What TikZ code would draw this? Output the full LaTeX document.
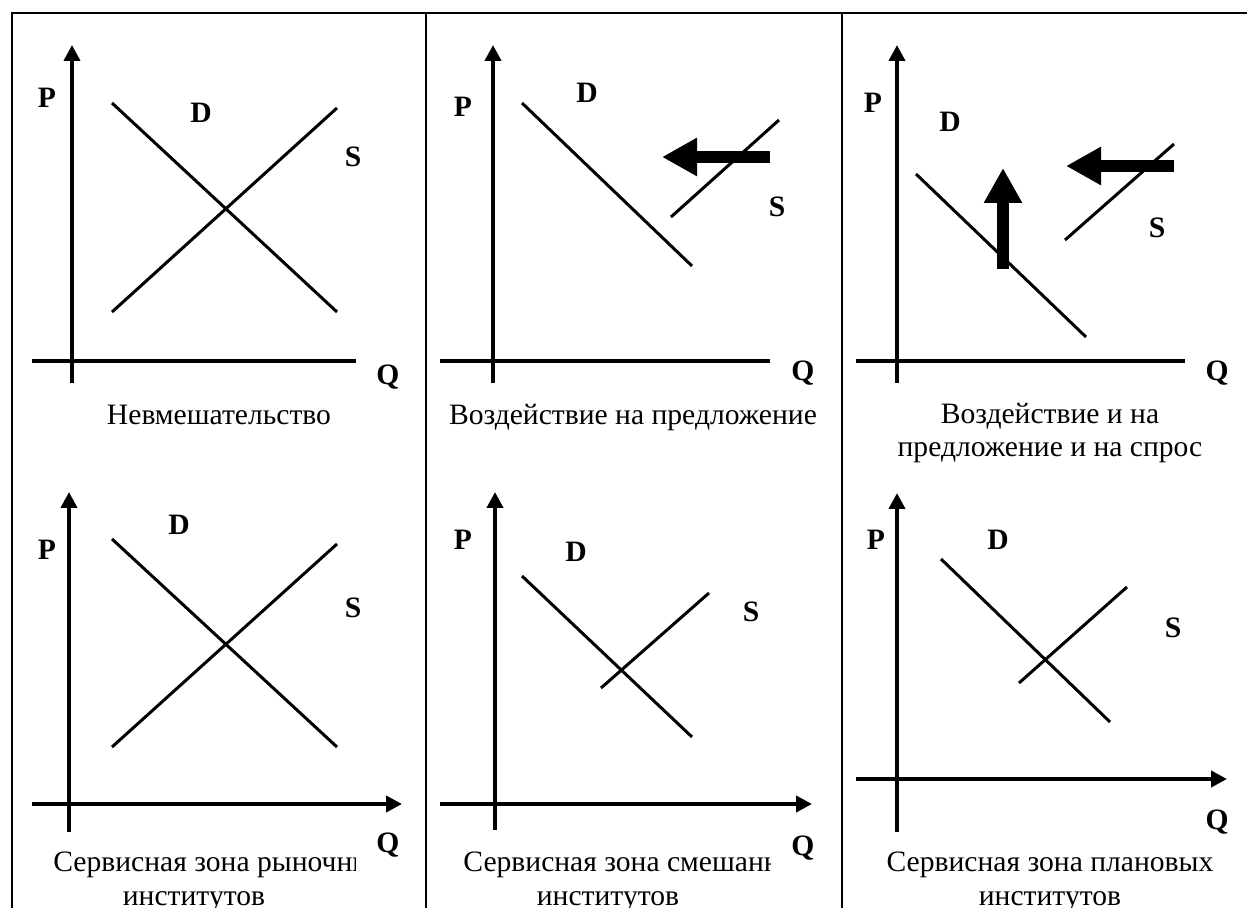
\documentclass[tikz,border=0pt]{standalone}
\usepackage{fontspec}
\setmainfont{Liberation Serif}
\usepackage{tikz}
\usetikzlibrary{positioning, arrows.meta}

\tikzset{
  axis/.style={line width=2.4pt},
  axisend/.style={axis, -{Triangle[length=8pt,width=8pt]}},
  curve/.style={line width=1.5pt},
  shiftarrow/.style={line width=6pt, -{Triangle[length=17.5pt,width=18pt]}},
  lab/.style={font=\fontsize{14.8}{17}\selectfont\bfseries, inner sep=0pt},
  capt/.style={font=\fontsize{14.8}{17}\selectfont, inner sep=0pt, anchor=base},
  frame/.style={line width=1.2pt}
}

\begin{document}
\begin{tikzpicture}[x=0.5pt, y=-0.5pt]
    \useasboundingbox (0,0) rectangle (1247,908);

    % table frame
    \coordinate (tl) at (12,13);
    \coordinate (tr) at (1247,13);
    \coordinate (bl) at (12,908);
    \coordinate (m1t) at (426,13);
    \coordinate (m1b) at (426,908);
    \coordinate (m2t) at (842,13);
    \coordinate (m2b) at (842,908);
    \draw[frame] (bl) -- (tl) -- (tr);
    \draw[frame] (m1t) -- (m1b);
    \draw[frame] (m2t) -- (m2b);

    % panel 1: laissez-faire
    \coordinate (y1a) at (72,383);  \coordinate (y1b) at (72,45);
    \coordinate (x1a) at (32,361);  \coordinate (x1b) at (356,361);
    \coordinate (d1a) at (112,103); \coordinate (d1b) at (337,312);
    \coordinate (s1a) at (112,312); \coordinate (s1b) at (337,108);
    \draw[axisend] (y1a) -- (y1b);
    \draw[axis] (x1a) -- (x1b);
    \draw[curve] (d1a) -- (d1b);
    \draw[curve] (s1a) -- (s1b);
    \node[lab] (p1) at (47,98) {P};
    \node[lab] (dl1) at (201,113) {D};
    \node[lab] (sl1) at (353,157) {S};
    \node[lab] (q1) at (388,377) {Q};
    \node[capt] (cap1) at (219,425) {Невмешательство};

    % panel 2: supply side
    \coordinate (y2a) at (493,383); \coordinate (y2b) at (493,45);
    \coordinate (x2a) at (440,361); \coordinate (x2b) at (770,361);
    \coordinate (d2a) at (522,103); \coordinate (d2b) at (692,266);
    \coordinate (s2a) at (671,217); \coordinate (s2b) at (779,120);
    \coordinate (h2a) at (770,157); \coordinate (h2b) at (662,157);
    \draw[axisend] (y2a) -- (y2b);
    \draw[axis] (x2a) -- (x2b);
    \draw[curve] (d2a) -- (d2b);
    \draw[curve] (s2a) -- (s2b);
    \draw[shiftarrow] (h2a) -- (h2b);
    \node[lab] (p2) at (463,107) {P};
    \node[lab] (dl2) at (587,93) {D};
    \node[lab] (sl2) at (777,207) {S};
    \node[lab] (q2) at (803,373) {Q};
    \node[capt] (cap2) at (633,425) {Воздействие на предложение};

    % panel 3: supply and demand
    \coordinate (y3a) at (897,383);  \coordinate (y3b) at (897,45);
    \coordinate (x3a) at (856,361);  \coordinate (x3b) at (1185,361);
    \coordinate (d3a) at (916,174);  \coordinate (d3b) at (1086,337);
    \coordinate (s3a) at (1065,240); \coordinate (s3b) at (1174,144);
    \coordinate (h3a) at (1174,166); \coordinate (h3b) at (1066,166);
    \coordinate (v3a) at (1003,269); \coordinate (v3b) at (1003,168);
    \draw[axisend] (y3a) -- (y3b);
    \draw[axis] (x3a) -- (x3b);
    \draw[curve] (d3a) -- (d3b);
    \draw[curve] (s3a) -- (s3b);
    \draw[shiftarrow] (h3a) -- (h3b);
    \draw[shiftarrow] (v3a) -- (v3b);
    \node[lab] (p3) at (873,103) {P};
    \node[lab] (dl3) at (950,122) {D};
    \node[lab] (sl3) at (1157,228) {S};
    \node[lab] (q3) at (1217,373) {Q};
    \node[capt] (cap3) at (1050,424) {Воздействие и на};
    \node[capt] (cap3b) at (1050,457) {предложение и на спрос};

    % panel 4: market institutions
    \coordinate (y4a) at (69,832);  \coordinate (y4b) at (69,492);
    \coordinate (x4a) at (32,804);  \coordinate (x4b) at (402,804);
    \coordinate (d4a) at (112,539); \coordinate (d4b) at (337,747);
    \coordinate (s4a) at (112,747); \coordinate (s4b) at (337,544);
    \draw[axisend] (y4a) -- (y4b);
    \draw[axisend] (x4a) -- (x4b);
    \draw[curve] (d4a) -- (d4b);
    \draw[curve] (s4a) -- (s4b);
    \node[lab] (p4) at (47,550) {P};
    \node[lab] (dl4) at (179,525) {D};
    \node[lab] (sl4) at (353,608) {S};
    \node[lab] (q4) at (388,845) {Q};
    \begin{scope}
      \clip (14,840) rectangle (355,880);
      \node[capt, anchor=base west] (cap4) at (53,871) {Сервисная зона рыночных};
    \end{scope}
    \node[capt] (cap4b) at (194,905) {институтов};

    % panel 5: mixed institutions
    \coordinate (y5a) at (495,830); \coordinate (y5b) at (495,492);
    \coordinate (x5a) at (440,804); \coordinate (x5b) at (812,804);
    \coordinate (d5a) at (522,576); \coordinate (d5b) at (692,737);
    \coordinate (s5a) at (601,688); \coordinate (s5b) at (709,593);
    \draw[axisend] (y5a) -- (y5b);
    \draw[axisend] (x5a) -- (x5b);
    \draw[curve] (d5a) -- (d5b);
    \draw[curve] (s5a) -- (s5b);
    \node[lab] (p5) at (463,540) {P};
    \node[lab] (dl5) at (576,552) {D};
    \node[lab] (sl5) at (751,612) {S};
    \node[lab] (q5) at (803,848) {Q};
    \begin{scope}
      \clip (428,840) rectangle (770,880);
      \node[capt, anchor=base west] (cap5) at (463,871) {Сервисная зона смешанных};
    \end{scope}
    \node[capt] (cap5b) at (608,905) {институтов};

    % panel 6: planned institutions
    \coordinate (y6a) at (897,832);  \coordinate (y6b) at (897,493);
    \coordinate (x6a) at (856,779);  \coordinate (x6b) at (1227,779);
    \coordinate (d6a) at (941,559);  \coordinate (d6b) at (1110,722);
    \coordinate (s6a) at (1019,683); \coordinate (s6b) at (1127,587);
    \draw[axisend] (y6a) -- (y6b);
    \draw[axisend] (x6a) -- (x6b);
    \draw[curve] (d6a) -- (d6b);
    \draw[curve] (s6a) -- (s6b);
    \node[lab] (p6) at (876,540) {P};
    \node[lab] (dl6) at (998,540) {D};
    \node[lab] (sl6) at (1173,628) {S};
    \node[lab] (q6) at (1217,822) {Q};
    \node[capt] (cap6) at (1050,871) {Сервисная зона плановых};
    \node[capt] (cap6b) at (1050,905) {институтов};
  \end{tikzpicture}
\end{document}
